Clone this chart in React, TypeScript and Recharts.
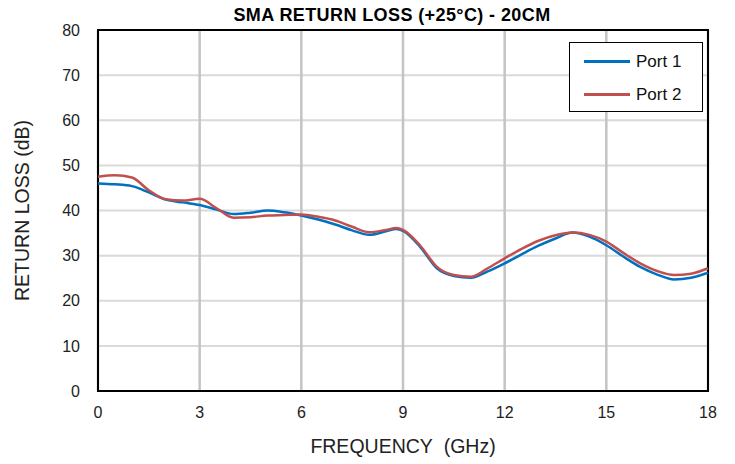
import React from "react";
import { LineChart, Line, XAxis, YAxis, CartesianGrid, ReferenceArea } from "recharts";

const freqs = [0, 0.5, 1, 1.5, 2, 2.5, 3, 3.5, 4, 4.5, 5, 5.5, 6, 6.5, 7, 7.5, 8, 8.5, 8.8, 9, 9.5, 10, 10.5, 11, 11.5, 12, 12.5, 13, 13.5, 14, 14.5, 15, 15.5, 16, 16.5, 17, 17.5, 18];
const port1 = [46.0, 45.8, 45.4, 44.0, 42.4, 41.8, 41.2, 40.2, 39.2, 39.5, 40.0, 39.6, 38.9, 38.0, 36.9, 35.6, 34.6, 35.4, 35.9, 35.5, 32.0, 27.2, 25.5, 25.1, 26.5, 28.3, 30.3, 32.2, 33.8, 35.1, 34.2, 32.3, 29.8, 27.5, 25.8, 24.7, 25.1, 26.2];
const port2 = [47.5, 47.8, 47.3, 44.5, 42.5, 42.2, 42.6, 40.5, 38.4, 38.5, 38.9, 39.0, 39.1, 38.6, 37.8, 36.4, 35.2, 35.7, 36.1, 35.7, 32.3, 27.5, 25.7, 25.3, 27.2, 29.4, 31.5, 33.3, 34.5, 35.1, 34.6, 33.1, 30.6, 28.3, 26.6, 25.7, 26.0, 27.2];
const xTicks = [0, 3, 6, 9, 12, 15, 18];
const yTicks = [0, 10, 20, 30, 40, 50, 60, 70, 80];
const seriesNames = ["Port 1", "Port 2"];
const colors = ["#0070c0", "#c0504d"];

const data = freqs.map((f, i) => ({ f, p1: port1[i], p2: port2[i] }));

const FONT = "'Liberation Sans', Arial, sans-serif";

const LegendBox = () => (
  <div style={{ position: "absolute", left: 569, top: 42, width: 134, height: 70, border: "1.5px solid #000", background: "#fff", boxSizing: "border-box", fontFamily: FONT, fontSize: 17, color: "#111" }}>
    {seriesNames.map((n, i) => (
      <div key={n} style={{ display: "flex", alignItems: "center", height: 33, marginTop: i === 0 ? 2 : 0 }}>
        <div style={{ marginLeft: 14, width: 46, height: 2.5, background: colors[i] }} />
        <span style={{ marginLeft: 6 }}>{n}</span>
      </div>
    ))}
  </div>
);

export default function App() {
  return (
    <div style={{ position: "absolute", left: 0, top: 0, width: 735, height: 464, background: "#fff" }}>
      <LineChart width={735} height={464} data={data} margin={{ top: 30, right: 27, left: 0, bottom: 0 }}>
        <text x={392} y={21} textAnchor="middle" style={{ fontFamily: FONT, fontWeight: "bold", fontSize: 18, letterSpacing: 0.4 }} fill="#000">
          SMA RETURN LOSS (+25°C) - 20CM
        </text>
        <CartesianGrid horizontal={true} vertical={false} stroke="#d9d9d9" strokeWidth={2} />
        <CartesianGrid horizontal={false} vertical={true} stroke="#c4c4c4" strokeWidth={2.5} />
        <XAxis
          dataKey="f"
          type="number"
          domain={[0, 18]}
          ticks={xTicks}
          height={73}
          tickLine={false}
          axisLine={false}
          tick={{ fontFamily: FONT, fontSize: 16, fill: "#222" }}
          tickMargin={10}
          label={{ value: "FREQUENCY\u00a0 (GHz)", position: "insideBottom", offset: 11, style: { fontFamily: FONT, fontSize: 19.5, fill: "#222" } }}
        />
        <YAxis
          type="number"
          domain={[0, 80]}
          ticks={yTicks}
          width={98}
          tickLine={false}
          axisLine={false}
          tick={{ fontFamily: FONT, fontSize: 16, fill: "#222" }}
          tickMargin={12}
          label={{ value: "RETURN LOSS (dB)", angle: -90, position: "insideLeft", offset: 22, style: { fontFamily: FONT, fontSize: 19.5, fill: "#222", textAnchor: "middle" } }}
        />
        <ReferenceArea x1={0} x2={18} y1={0} y2={80} fill="none" stroke="#000" strokeWidth={2} ifOverflow="visible" />
        <Line type="monotone" dataKey="p1" name={seriesNames[0]} stroke={colors[0]} strokeWidth={2.5} dot={false} isAnimationActive={false} />
        <Line type="monotone" dataKey="p2" name={seriesNames[1]} stroke={colors[1]} strokeWidth={2.5} dot={false} isAnimationActive={false} />
      </LineChart>
      <LegendBox />
    </div>
  );
}
